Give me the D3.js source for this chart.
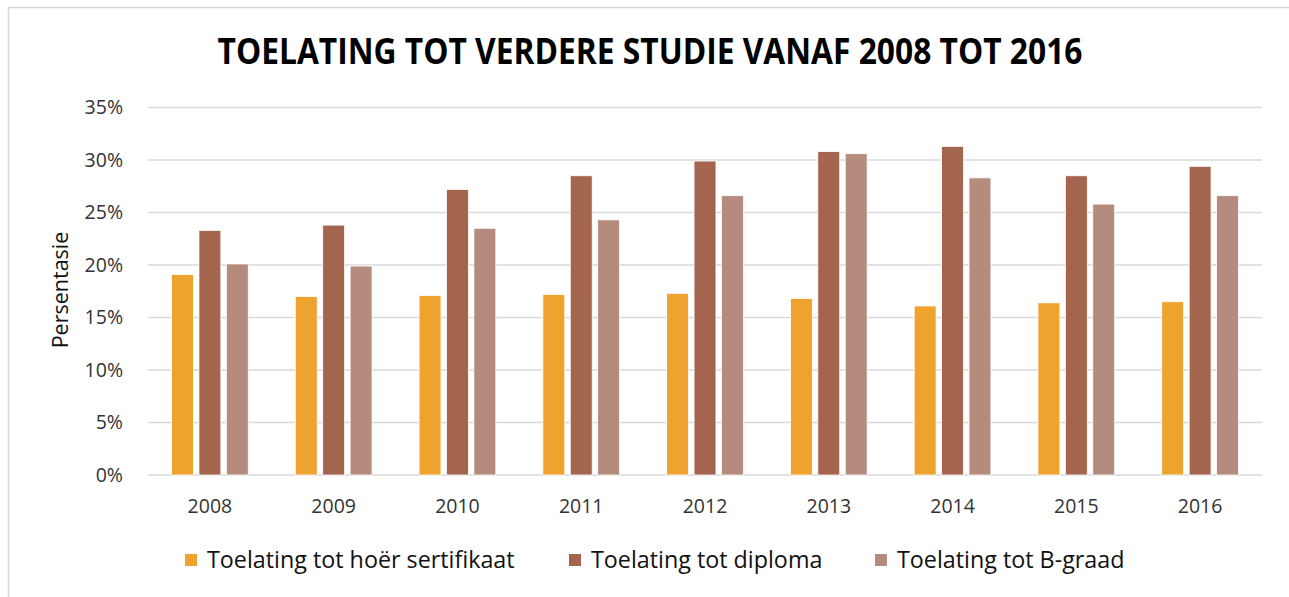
<!DOCTYPE html>
<html>
<head>
<meta charset="utf-8">
<script src="https://cdn.jsdelivr.net/npm/d3@7"></script>
<style>
  body { margin: 0; background: #fff; }
  text { font-family: "Open Sans", Lato, sans-serif; }
</style>
</head>
<body>
<script>
// data
var years = ["2008", "2009", "2010", "2011", "2012", "2013", "2014", "2015", "2016"];
var series = ["Toelating tot hoër sertifikaat", "Toelating tot diploma", "Toelating tot B-graad"];
var sertifikaat = [19.1, 17.0, 17.1, 17.2, 17.3, 16.8, 16.1, 16.4, 16.5];
var diploma = [23.3, 23.8, 27.2, 28.5, 29.9, 30.8, 31.3, 28.5, 29.4];
var bgraad = [20.1, 19.9, 23.5, 24.3, 26.6, 30.6, 28.3, 25.8, 26.6];
var yTicks = [0, 5, 10, 15, 20, 25, 30, 35];
var colors = ["#EFA32F", "#A4654E", "#B58B7E"];

var values = [sertifikaat, diploma, bgraad];

var w = 1289;
var h = 597;

var svg = d3.select("body")
      .append("svg")
      .attr("width", w)
      .attr("height", h);

// frame round the chart
svg.append("rect")
   .attr("x", 8.5)
   .attr("y", 7.5)
   .attr("width", 1300)
   .attr("height", 620)
   .attr("fill", "none")
   .attr("stroke", "#d9d9d9")
   .attr("stroke-width", 1.5);

var x0 = d3.scaleBand()
      .domain(years)
      .range([148, 1262])
      .paddingInner(0.38)
      .paddingOuter(0.19);

var x1 = d3.scaleBand()
      .domain(series)
      .range([0, x0.bandwidth()])
      .paddingInner(0.2);

var y = d3.scaleLinear()
      .domain([0, 35])
      .range([475, 107.5]);

// gridlines
svg.selectAll("line.grid")
   .data(yTicks)
   .enter()
   .append("line")
   .attr("class", "grid")
   .attr("x1", 148)
   .attr("x2", 1262)
   .attr("y1", function(d) { return y(d); })
   .attr("y2", function(d) { return y(d); })
   .attr("stroke", "#d9d9d9")
   .attr("stroke-width", 1.5);

// bars
var rows = [];
years.forEach(function(yr, i) {
  series.forEach(function(s, j) {
    rows.push({ year: yr, s: s, j: j, v: values[j][i] });
  });
});

svg.selectAll("rect.bar")
   .data(rows)
   .enter()
   .append("rect")
   .attr("class", "bar")
   .attr("x", function(d) { return x0(d.year) + x1(d.s); })
   .attr("y", function(d) { return y(d.v); })
   .attr("width", x1.bandwidth())
   .attr("height", function(d) { return y(0) - y(d.v); })
   .attr("fill", function(d) { return colors[d.j]; })
   .attr("stroke", "#fff")
   .attr("stroke-width", 0.8);

// y axis
var yAxis = svg.append("g")
      .attr("transform", "translate(148,0)")
      .call(d3.axisLeft(y).tickValues(yTicks).tickSize(0).tickPadding(25)
            .tickFormat(function(d) { return d + "%"; }));
yAxis.select(".domain").remove();
yAxis.selectAll("text")
     .attr("font-family", "'Open Sans', Lato, sans-serif")
     .attr("font-size", 19.5)
     .attr("fill", "#333");

// x axis
var xAxis = svg.append("g")
      .attr("transform", "translate(0,475)")
      .call(d3.axisBottom(x0).tickSize(0).tickPadding(24));
xAxis.select(".domain").remove();
xAxis.selectAll("text")
     .attr("font-family", "'Open Sans', Lato, sans-serif")
     .attr("font-size", 19.5)
     .attr("fill", "#333");

// y title
svg.append("text")
   .attr("transform", "translate(68,290) rotate(-90)")
   .attr("text-anchor", "middle")
   .attr("font-size", 21.5)
   .attr("fill", "#111")
   .text("Persentasie");

// title
svg.append("text")
   .attr("x", 650)
   .attr("y", 64)
   .attr("text-anchor", "middle")
   .attr("font-size", 35)
   .attr("font-weight", "bold")
   .attr("fill", "#000")
   .attr("textLength", 865)
   .attr("lengthAdjust", "spacingAndGlyphs")
   .text("TOELATING TOT VERDERE STUDIE VANAF 2008 TOT 2016");

// legend
var legX = [185, 569, 875];
var leg = svg.selectAll("g.leg")
      .data(series)
      .enter()
      .append("g")
      .attr("class", "leg")
      .attr("transform", function(d, i) { return "translate(" + legX[i] + ",554)"; });

leg.append("rect")
   .attr("width", 12)
   .attr("height", 12)
   .attr("fill", function(d, i) { return colors[i]; });

leg.append("text")
   .attr("x", 22)
   .attr("y", 14)
   .attr("font-size", 23.3)
   .attr("fill", "#111")
   .text(function(d) { return d; });
</script>
</body>
</html>
